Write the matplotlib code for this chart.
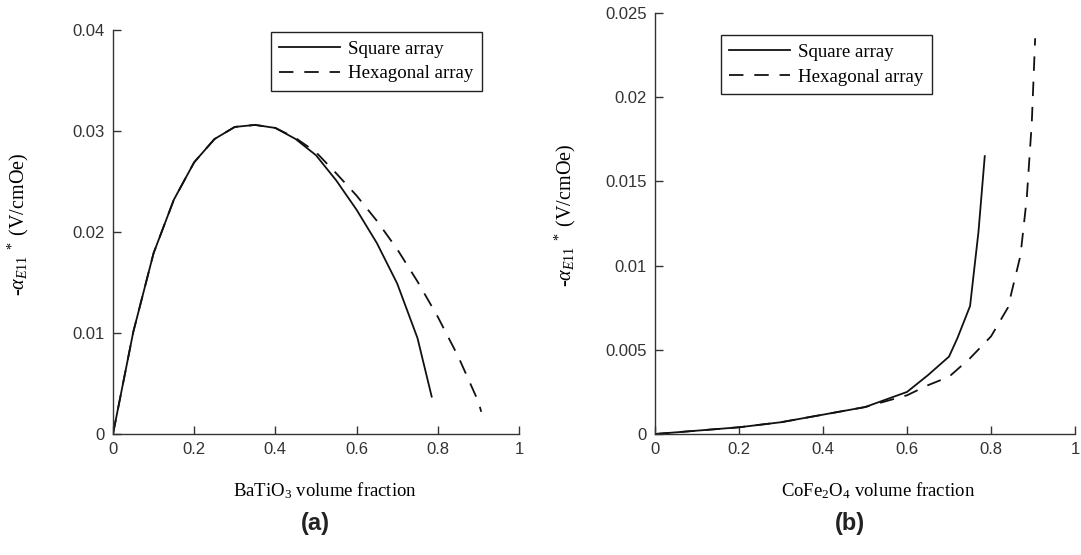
import matplotlib
matplotlib.use("Agg")
import matplotlib.pyplot as plt

plt.rcParams['mathtext.fontset'] = 'custom'
plt.rcParams['mathtext.rm'] = 'Liberation Serif'
plt.rcParams['mathtext.it'] = 'Liberation Serif:italic'
plt.rcParams['mathtext.bf'] = 'Liberation Serif:bold'

# Panel (a): BaTiO3 volume fraction
a_sq_x = [0, 0.05, 0.10, 0.15, 0.20, 0.25, 0.30, 0.35, 0.40, 0.45, 0.50, 0.55, 0.60, 0.65, 0.70, 0.75, 0.785]
a_sq_y = [0, 0.0101, 0.0179, 0.0232, 0.0269, 0.0292, 0.0304, 0.0306, 0.0303, 0.0292, 0.0276, 0.0251, 0.0222, 0.0189, 0.0149, 0.0095, 0.0037]
a_hx_x = [0, 0.05, 0.10, 0.15, 0.20, 0.25, 0.30, 0.35, 0.40, 0.45, 0.50, 0.55, 0.60, 0.65, 0.70, 0.75, 0.80, 0.85, 0.90, 0.907]
a_hx_y = [0, 0.0101, 0.0179, 0.0232, 0.0269, 0.0292, 0.0304, 0.0306, 0.0303, 0.0293, 0.0279, 0.0258, 0.0236, 0.0211, 0.0183, 0.0151, 0.0116, 0.0077, 0.0032, 0.0022]

# Panel (b): CoFe2O4 volume fraction
b_sq_x = [0, 0.1, 0.2, 0.3, 0.4, 0.5, 0.6, 0.65, 0.70, 0.72, 0.75, 0.77, 0.785]
b_sq_y = [0, 0.0002, 0.0004, 0.0007, 0.00115, 0.0016, 0.0025, 0.0035, 0.0046, 0.0057, 0.0076, 0.0120, 0.0165]
b_hx_x = [0, 0.1, 0.2, 0.3, 0.4, 0.5, 0.6, 0.65, 0.70, 0.75, 0.80, 0.84, 0.87, 0.885, 0.897, 0.905]
b_hx_y = [0, 0.0002, 0.0004, 0.0007, 0.00115, 0.0016, 0.0023, 0.0029, 0.0034, 0.0045, 0.0058, 0.0075, 0.0106, 0.0140, 0.0185, 0.0235]

x_ticks = [0, 0.2, 0.4, 0.6, 0.8, 1]
x_ticklabels = ['0', '0.2', '0.4', '0.6', '0.8', '1']
a_y_ticks = [0, 0.01, 0.02, 0.03, 0.04]
a_y_ticklabels = ['0', '0.01', '0.02', '0.03', '0.04']
b_y_ticks = [0, 0.005, 0.01, 0.015, 0.02, 0.025]
b_y_ticklabels = ['0', '0.005', '0.01', '0.015', '0.02', '0.025']

legend_labels = ['Square array', 'Hexagonal array']

fig = plt.figure(figsize=(10.81, 5.55), dpi=100)
ax1 = fig.add_axes([0.1045, 0.218, 0.3756, 0.728])
ax2 = fig.add_axes([0.606, 0.218, 0.3885, 0.7586])

axis_col = '#333333'
line_col = '#111111'
serif = 'Liberation Serif'
sans = 'Liberation Sans'

def style(ax, yticks, yticklabels, ymax, xlabel, ylab_xy, xlab_xy):
    ax.set_xlim(0, 1)
    ax.set_ylim(0, ymax)
    ax.set_xticks(x_ticks)
    ax.set_xticklabels(x_ticklabels, fontfamily=sans, fontsize=12, color=axis_col)
    ax.set_yticks(yticks)
    ax.set_yticklabels(yticklabels, fontfamily=sans, fontsize=12, color=axis_col)
    ax.spines['top'].set_visible(False)
    ax.spines['right'].set_visible(False)
    for s in ['left', 'bottom']:
        ax.spines[s].set_color(axis_col)
        ax.spines[s].set_linewidth(1.0)
    ax.tick_params(direction='in', length=6, width=1.0, color=axis_col, pad=6)
    ax.set_xlabel(xlabel, fontfamily=serif, fontsize=13.5)
    ax.xaxis.set_label_coords(*xlab_xy)
    ax.set_ylabel(r'-$\mathit{\alpha}_{E11}{}^{\ *}$ (V/cmOe)', fontfamily=serif, fontsize=14.5)
    ax.yaxis.set_label_coords(*ylab_xy)

ax1.plot(a_sq_x, a_sq_y, color=line_col, lw=1.3, label=legend_labels[0])
ax1.plot(a_hx_x, a_hx_y, color=line_col, lw=1.3, dashes=(8, 6), label=legend_labels[1])
style(ax1, a_y_ticks, a_y_ticklabels, 0.04, r'BaTiO$_3$ volume fraction', (-0.202, 0.52), (0.521, -0.114))

ax2.plot(b_sq_x, b_sq_y, color=line_col, lw=1.3, label=legend_labels[0])
ax2.plot(b_hx_x, b_hx_y, color=line_col, lw=1.3, dashes=(8, 6), label=legend_labels[1])
style(ax2, b_y_ticks, b_y_ticklabels, 0.025, r'CoFe$_2$O$_4$ volume fraction', (-0.183, 0.52), (0.531, -0.109))

for ax, anchor in [(ax1, (482 / 1081, 1 - 32 / 555)), (ax2, (932 / 1081, 1 - 35 / 555))]:
    leg = ax.legend(loc='upper right', bbox_to_anchor=anchor, bbox_transform=fig.transFigure,
                    prop={'family': serif, 'size': 13.6},
                    fancybox=False, framealpha=1, edgecolor='#222222', handlelength=3.2,
                    borderpad=0.45, labelspacing=0.4, handletextpad=0.45, borderaxespad=0)
    leg.get_frame().set_linewidth(1.0)

fig.text(0.292, 0.057, '(a)', fontfamily=sans, fontweight='bold', fontsize=17, ha='center', va='center', color='#222222')
fig.text(0.786, 0.057, '(b)', fontfamily=sans, fontweight='bold', fontsize=17, ha='center', va='center', color='#222222')

fig.savefig('out.png', dpi=100, facecolor='white')
